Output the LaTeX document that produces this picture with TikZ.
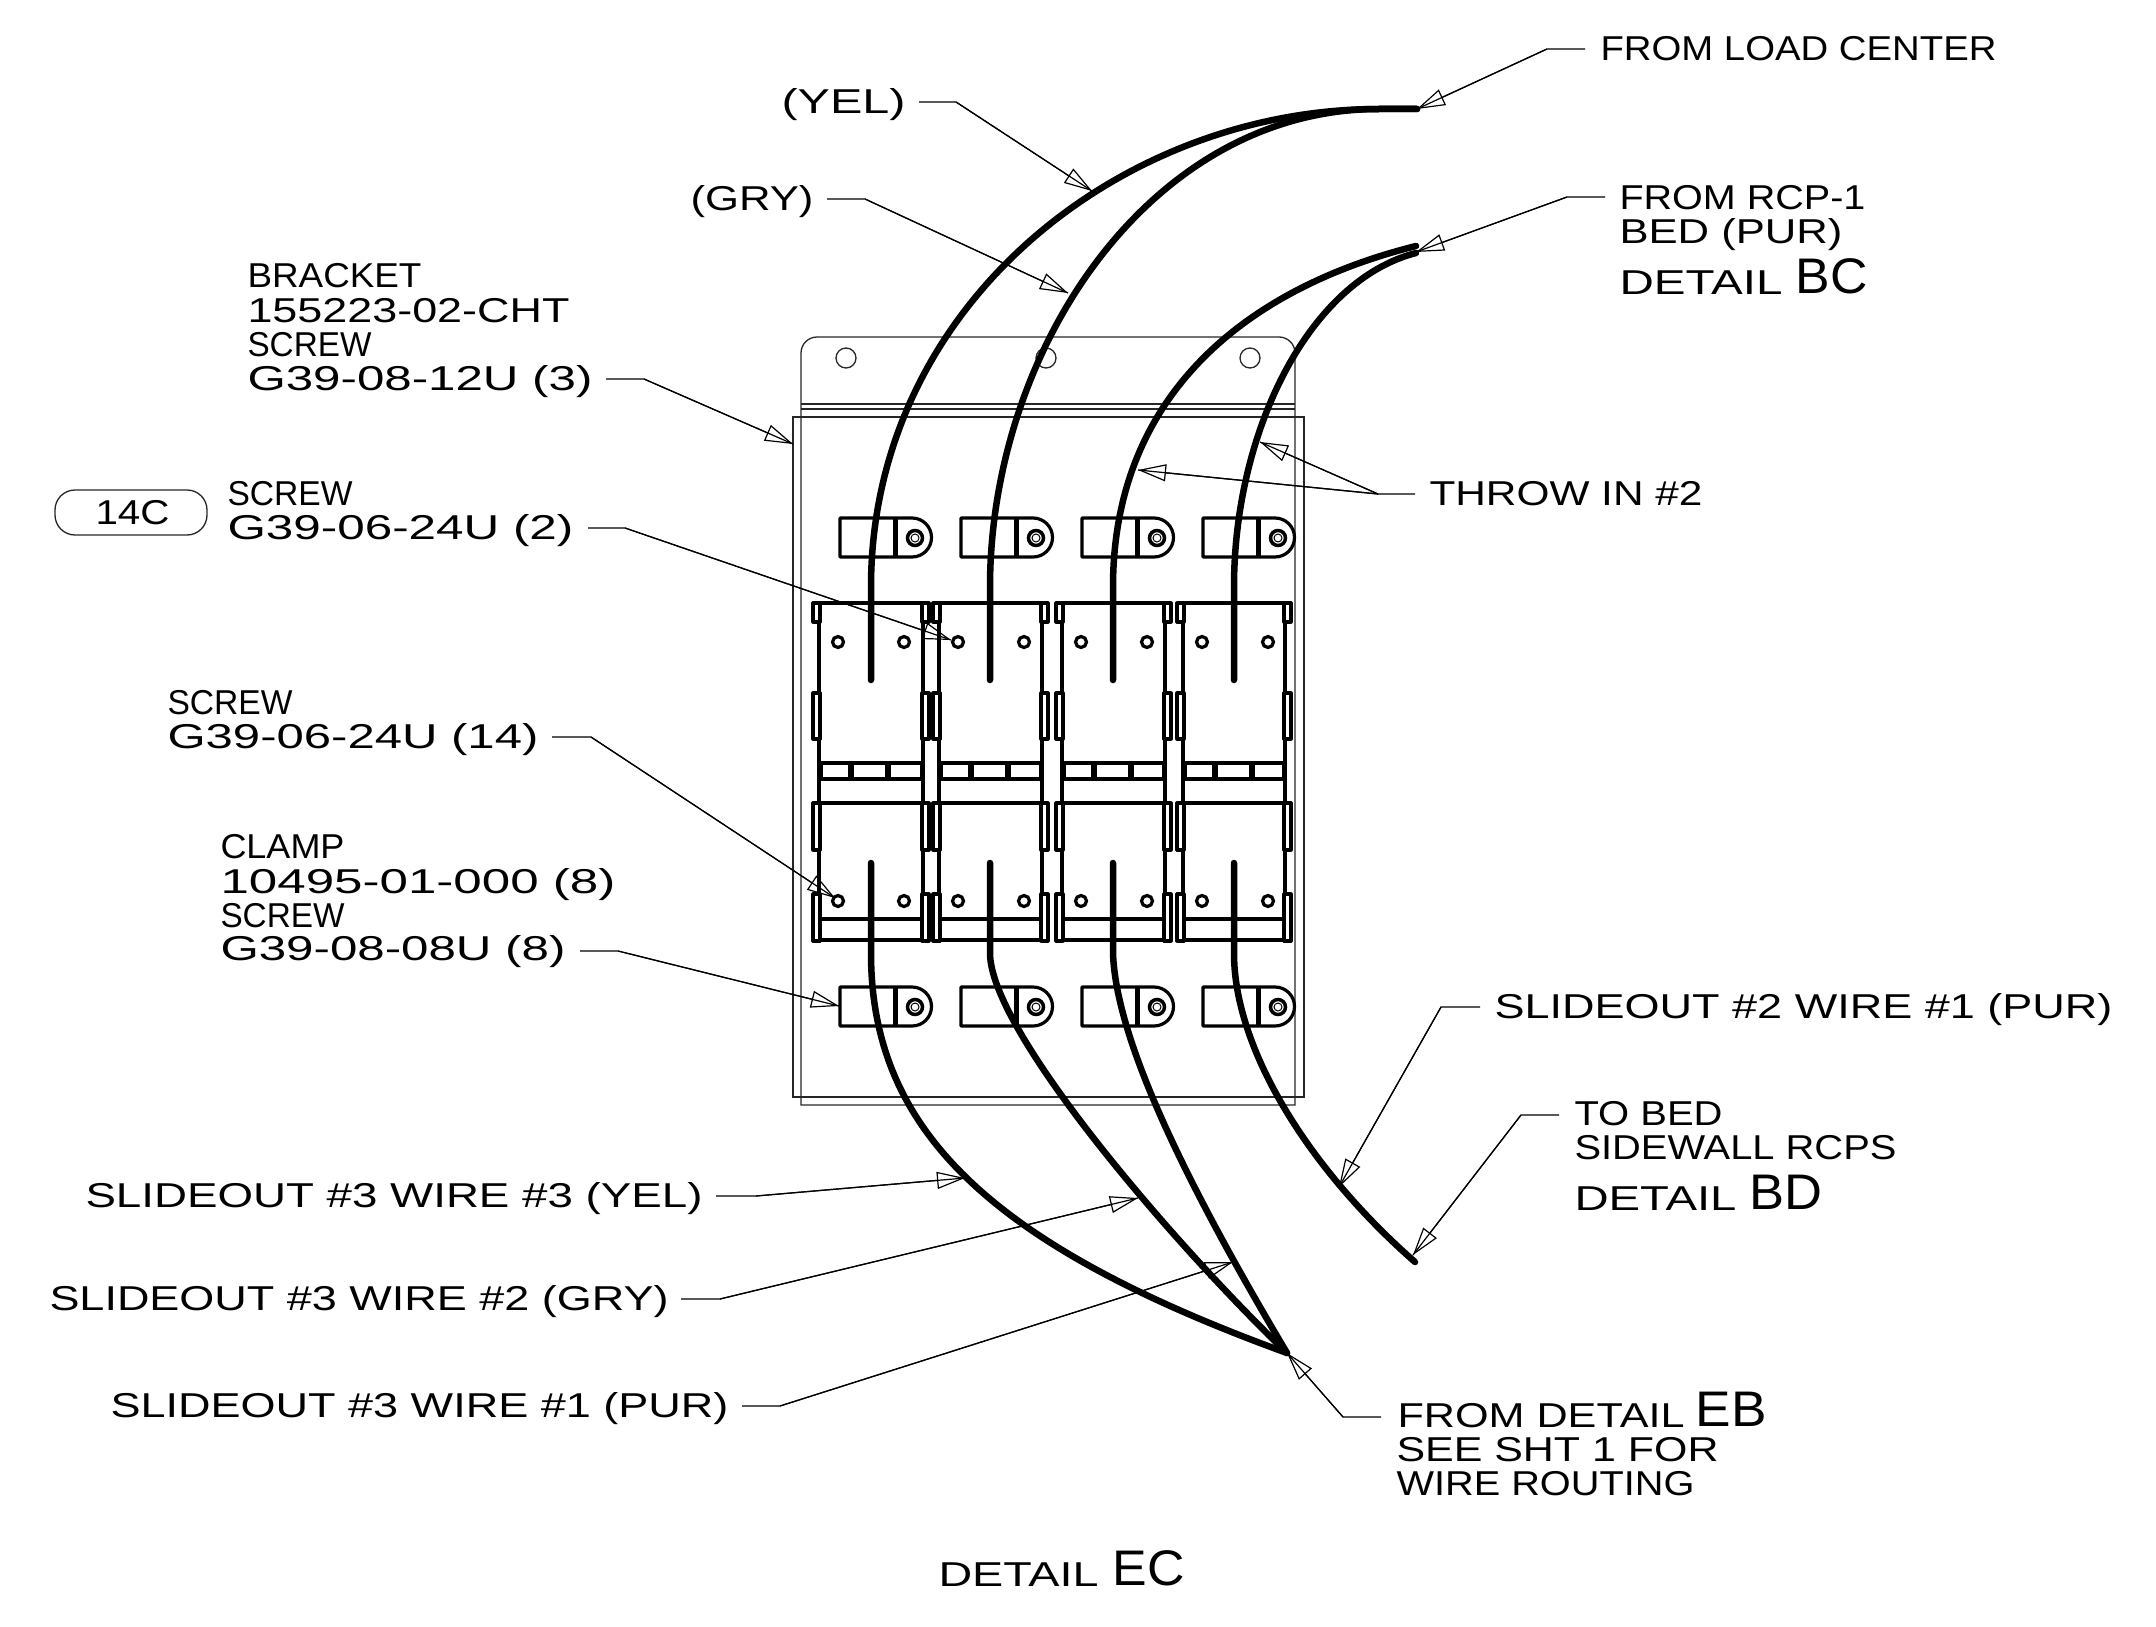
\documentclass[tikz,border=0pt]{standalone}
\usepackage{fontspec}
\usepackage{graphicx}
\setmainfont{Liberation Sans}
\usetikzlibrary{arrows.meta}
\newcommand\fitw[2]{\resizebox{#1pt}{\height}{#2}}
\newcommand\tx[5]{\node[txt] (#1) at ({#2-1.5},{#3+1.7}) {\fitw{\the\numexpr#4+3\relax}{#5}};}
\newcommand\tb[5]{\node[txtb] (#1) at ({#2-1.5},{#3+1.7}) {\fitw{\the\numexpr#4+3\relax}{#5}};}
\newcommand\leader[3]{\draw[ldr] (#1) -- (#2) -- (#3); \draw[ldr,tip] (#2) -- (#3);}
\tikzset{
  txt/.style={anchor=base west,inner sep=0pt,outer sep=0pt,font=\fontsize{34.5}{34.5}\selectfont},
  txtb/.style={anchor=base west,inner sep=0pt,outer sep=0pt,font=\fontsize{50}{50}\selectfont},
  ldr/.style={line width=1.2pt,black},
  tip/.style={-{Triangle[open,length=28pt,width=17pt,line width=1.2pt]}},
  thin line/.style={line width=1.3pt,black!85},
  part/.style={line width=3.2pt,black,line join=round},
  wire/.style={line width=6.5pt,black,line cap=round,line join=round},
}
\begin{document}
\begin{tikzpicture}[x=1pt,y=-1pt]
\useasboundingbox (0,0) rectangle (2156,1627);
% bracket and plate
\draw[thin line] (801,1105) [rounded corners=16pt] -- (801,337) -- (1295,337) -- (1295,600) [sharp corners] -- (1295,1105) -- cycle;
\draw[thin line] (801,404) -- (1295,404) (801,409) -- (1295,409);
\draw[thin line] (793,417) rectangle (1304,1097);
\foreach \hx in {846,1046,1250} \draw[thin line] (\hx,358) circle (10);
% clamps
\foreach \cx in {840,961,1082,1203}{
 \foreach \cy in {518,987}{
  \draw[part] (\cx,\cy) -- ({\cx+72},\cy) arc[start angle=-90,end angle=90,radius=19.5] -- (\cx,\cy+39) -- cycle;
  \draw[line width=5pt] ({\cx+55},\cy) -- ({\cx+55},\cy+39);
  \draw[line width=3.5pt] ({\cx+75},\cy+20) circle (7.5);
  \draw[line width=1pt] ({\cx+75},\cy+20) circle (4);
 }
}
% switch modules
\foreach \mx/\mw in {819/104,939/103,1062/103,1183/102}{
 \pgfmathsetmacro{\mr}{\mx+\mw}
 \draw[part] (\mx,603) -- (\mx,940) -- (\mr,940) -- (\mr,603) -- cycle;
 \draw[part] (\mx,763) -- (\mr,763) (\mx,779) -- (\mr,779) (\mx,803) -- (\mr,803) (\mx,919) -- (\mr,919);
 \draw[line width=6pt] ({\mx+32},763) -- ({\mx+32},779) ({\mx+69},763) -- ({\mx+69},779);
 \draw[line width=5pt] ({\mx+1},763) -- ({\mx+1},779) ({\mr-1},763) -- ({\mr-1},779);
 \foreach \ta/\tz in {603/622,693/739,803/850,894/941}{
  \draw[part,fill=white] ({\mx-6},\ta) rectangle ({\mx+1},\tz);
  \draw[part,fill=white] ({\mr-1},\ta) rectangle ({\mr+6},\tz);
 }
 \foreach \hy in {642,901}{
  \draw[line width=3.2pt] ({\mx+19},\hy) circle (5.5);
  \draw[line width=3.2pt] ({\mx+85},\hy) circle (5.5);
 }
}
% wires
\coordinate (wa) at (1417,109);
\coordinate (wb) at (1416,246);
\coordinate (wc) at (1416,253);
\coordinate (wd) at (1287,1353);
\coordinate (we) at (1415,1262);
\draw[wire] (871,680) -- (871,587) .. controls (871,307) and (1119,109) .. (1379,109) -- (wa);
\draw[wire] (990,680) -- (990,587) .. controls (990,350) and (1150,109) .. (1379,109) -- (wa);
\draw[wire] (1113,680) -- (1113,587) .. controls (1113,400) and (1240,290) .. (wb);
\draw[wire] (1234,680) -- (1234,587) .. controls (1234,430) and (1310,280) .. (wc);
\draw[wire] (871,863) -- (871,953) .. controls (871,1130) and (990,1245) .. (wd);
\draw[wire] (990,863) -- (990,953) .. controls (990,1030) and (1170,1240) .. (wd);
\draw[wire] (1113,863) -- (1113,953) .. controls (1116,1050) and (1205,1215) .. (wd);
\draw[wire] (1234,863) -- (1234,953) .. controls (1234,1050) and (1310,1170) .. (we);
% texts
\tx{t1}{1602}{59}{393}{FROM LOAD CENTER}
\tx{t2}{783}{112}{121}{(YEL)}
\tx{t3}{692}{209}{120}{(GRY)}
\tx{t4}{1621}{208}{243}{FROM RCP-1}
\tx{t5}{1621}{242}{220}{BED (PUR)}
\tx{t6}{1621}{293}{160}{DETAIL}
\tb{t7}{1797}{292}{69}{BC}
\tx{t8}{249}{286}{171}{BRACKET}
\tx{t9}{249}{321}{319}{155223-02-CHT}
\tx{t10}{249}{355}{121}{SCREW}
\tx{t11}{249}{389}{342}{G39-08-12U (3)}
\tx{t12}{1431}{504}{270}{THROW IN \#2}
\node[draw,thin line,rounded corners=20pt,minimum width=152pt,minimum height=45pt,inner sep=0pt] (b14) at (131,512.5) {};
\tx{t13}{97}{523}{71}{14C}
\tx{t14}{229}{504}{122}{SCREW}
\tx{t15}{229}{538}{343}{G39-06-24U (2)}
\tx{t16}{169}{713}{122}{SCREW}
\tx{t17}{169}{747}{368}{G39-06-24U (14)}
\tx{t18}{222}{857}{121}{CLAMP}
\tx{t19}{222}{892}{392}{10495-01-000 (8)}
\tx{t20}{222}{926}{121}{SCREW}
\tx{t21}{222}{959}{342}{G39-08-08U (8)}
\tx{t22}{1496}{1017}{615}{SLIDEOUT \#2 WIRE \#1 (PUR)}
\tx{t23}{1576}{1124}{145}{TO BED}
\tx{t24}{1576}{1158}{319}{SIDEWALL RCPS}
\tx{t25}{1576}{1209}{159}{DETAIL}
\tb{t26}{1751}{1208}{70}{BD}
\tx{t27}{87}{1206}{614}{SLIDEOUT \#3 WIRE \#3 (YEL)}
\tx{t28}{51}{1309}{616}{SLIDEOUT \#3 WIRE \#2 (GRY)}
\tx{t29}{112}{1416}{615}{SLIDEOUT \#3 WIRE \#1 (PUR)}
\tx{t30}{1399}{1426}{284}{FROM DETAIL}
\tb{t31}{1697}{1425}{68}{EB}
\tx{t32}{1398}{1460}{319}{SEE SHT 1 FOR}
\tx{t33}{1398}{1494}{295}{WIRE ROUTING}
\tx{t34}{940}{1585}{157}{DETAIL}
\tb{t35}{1114}{1584}{69}{EC}
% leaders
\coordinate (s1) at (1585,49);  \coordinate (e1) at (1547,49);
\leader{s1}{e1}{wa}
\coordinate (s2) at (919,102);  \coordinate (e2) at (956,102);  \coordinate (p2) at (1092,191);
\leader{s2}{e2}{p2}
\coordinate (s3) at (827,199);  \coordinate (e3) at (865,199);  \coordinate (p3) at (1068,293);
\leader{s3}{e3}{p3}
\coordinate (s4) at (1605,197); \coordinate (e4) at (1567,197); \coordinate (p4) at (1416,252);
\leader{s4}{e4}{p4}
\coordinate (s5) at (606,379);  \coordinate (e5) at (644,379);  \coordinate (p5) at (793,444);
\leader{s5}{e5}{p5}
\coordinate (s6) at (1415,494); \coordinate (e6) at (1378,494); \coordinate (p6a) at (1260,442); \coordinate (p6b) at (1138,470);
\leader{s6}{e6}{p6a}
\leader{e6}{e6}{p6b}
\coordinate (s7) at (588,528);  \coordinate (e7) at (625,528);  \coordinate (p7) at (951,640);
\leader{s7}{e7}{p7}
\coordinate (s8) at (552,737);  \coordinate (e8) at (591,737);  \coordinate (p8) at (835,898);
\leader{s8}{e8}{p8}
\coordinate (s9) at (580,951);  \coordinate (e9) at (618,951);  \coordinate (p9) at (839,1006);
\leader{s9}{e9}{p9}
\coordinate (s10) at (716,1196); \coordinate (e10) at (756,1196); \coordinate (p10) at (965,1178);
\leader{s10}{e10}{p10}
\coordinate (s11) at (681,1299); \coordinate (e11) at (720,1299); \coordinate (p11) at (1138,1198);
\leader{s11}{e11}{p11}
\coordinate (s12) at (742,1406); \coordinate (e12) at (780,1406); \coordinate (p12) at (1233,1262);
\leader{s12}{e12}{p12}
\coordinate (s13) at (1480,1007); \coordinate (e13) at (1441,1007); \coordinate (p13) at (1339,1187);
\leader{s13}{e13}{p13}
\coordinate (s14) at (1559,1115); \coordinate (e14) at (1521,1115); \coordinate (p14) at (1413,1255);
\leader{s14}{e14}{p14}
\coordinate (s15) at (1381,1417); \coordinate (e15) at (1343,1417);
\leader{s15}{e15}{wd}
\end{tikzpicture}
\end{document}
